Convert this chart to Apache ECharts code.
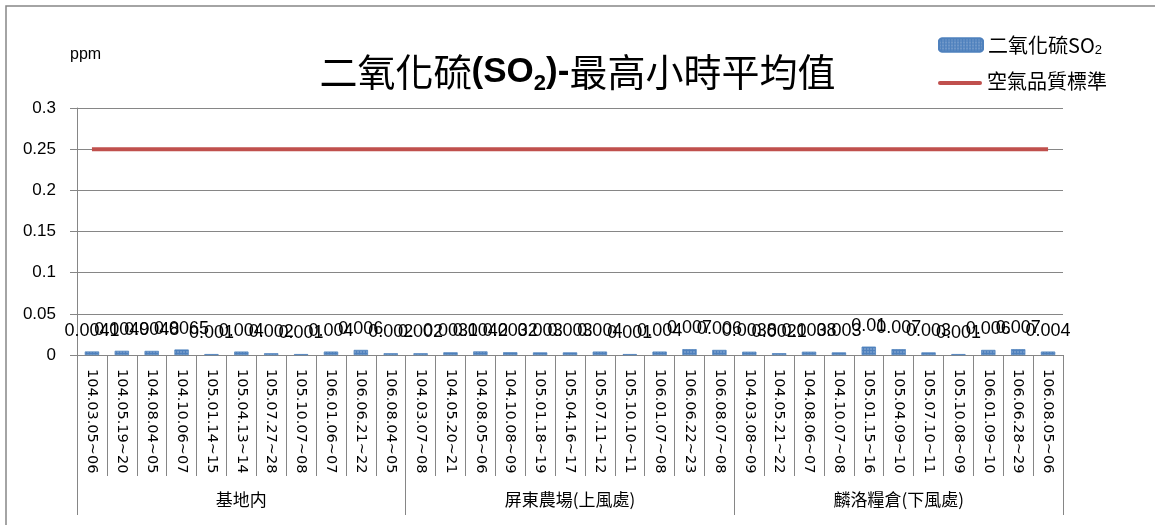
<!DOCTYPE html>
<html>
<head>
<meta charset="utf-8">
<script src="https://cdn.jsdelivr.net/npm/echarts@6/dist/echarts.min.js"></script>
<style>
html,body{margin:0;padding:0;background:#fff;}
#chart{width:1155px;height:525px;}
</style>
</head>
<body>
<div id="chart"></div>
<script>
// ---- data ----
var categories = [
  '104.03.05~06','104.05.19~20','104.08.04~05','104.10.06~07','105.01.14~15','105.04.13~14','105.07.27~28','105.10.07~08','106.01.06~07','106.06.21~22','106.08.04~05',
  '104.03.07~08','104.05.20~21','104.08.05~06','104.10.08~09','105.01.18~19','105.04.16~17','105.07.11~12','105.10.10~11','106.01.07~08','106.06.22~23','106.08.07~08',
  '104.03.08~09','104.05.21~22','104.08.06~07','104.10.07~08','105.01.15~16','105.04.09~10','105.07.10~11','105.10.08~09','106.01.09~10','106.06.28~29','106.08.05~06'
];
var groups = ['基地内', '屏東農場(上風處)', '麟洛糧倉(下風處)'];
var so2Values = [
  0.0041, 0.0049, 0.0048, 0.0065, 0.001, 0.004, 0.002, 0.001, 0.004, 0.006, 0.002,
  0.002, 0.0031, 0.0042, 0.0032, 0.003, 0.003, 0.004, 0.001, 0.004, 0.007, 0.006,
  0.0038, 0.0021, 0.0038, 0.003, 0.01, 0.007, 0.003, 0.001, 0.006, 0.007, 0.004
];
var standardValues = [
  0.25, 0.25, 0.25, 0.25, 0.25, 0.25, 0.25, 0.25, 0.25, 0.25, 0.25,
  0.25, 0.25, 0.25, 0.25, 0.25, 0.25, 0.25, 0.25, 0.25, 0.25, 0.25,
  0.25, 0.25, 0.25, 0.25, 0.25, 0.25, 0.25, 0.25, 0.25, 0.25, 0.25
];
var seriesNames = ['二氧化硫SO₂', '空氣品質標準'];

// ---- chart ----
var GREY = '#868686';
var RED = '#C0504D';
var CJK = '"Noto Sans CJK TC", "Noto Sans", sans-serif';
var LAT = '"Liberation Sans", Arial, sans-serif';
var chart = echarts.init(document.getElementById('chart'), null, {renderer: 'canvas'});
var option = {
  backgroundColor: '#fff',
  animation: false,
  title: {
    text: '{n|二氧化硫}{b|(SO}{s|2}{b|)-}{n|最高小時平均值}',
    left: 'center',
    top: 42,
    textStyle: {
      fontWeight: 'normal',
      rich: {
        n: {fontFamily: CJK, fontSize: 38, fontWeight: 'normal', color: '#000', lineHeight: 50, verticalAlign: 'middle'},
        b: {fontFamily: LAT, fontSize: 35, fontWeight: 'bold', color: '#000', lineHeight: 50, verticalAlign: 'middle'},
        s: {fontFamily: LAT, fontSize: 22, fontWeight: 'bold', color: '#000', lineHeight: 50, verticalAlign: 'bottom', padding: [0, 0, 2, 0]}
      }
    }
  },
  legend: {
    orient: 'vertical',
    left: 933,
    top: 30,
    itemWidth: 44,
    itemHeight: 13,
    data: [{name: seriesNames[0]}],
    formatter: function (name) {
      return '{t|二氧化硫SO}{s|2}';
    },
    textStyle: {
      rich: {
        t: {fontFamily: CJK, fontSize: 20, color: '#000', lineHeight: 24, verticalAlign: 'middle'},
        s: {fontFamily: LAT, fontSize: 13, color: '#000', lineHeight: 24, verticalAlign: 'bottom'}
      }
    }
  },
  graphic: [
    {type: 'rect', shape: {x: 6, y: 6, width: 1200, height: 600}, style: {fill: 'none', stroke: GREY, lineWidth: 1.5}, silent: true},
    {type: 'text', left: 70, top: 47, style: {text: 'ppm', font: '16px ' + LAT, fill: '#000'}},
    {type: 'line', shape: {x1: 940, y1: 83, x2: 980, y2: 83}, style: {stroke: RED, lineWidth: 4, lineCap: 'round'}, silent: true},
    {type: 'text', left: 987, top: 71, style: {text: seriesNames[1], font: '20px ' + CJK, fill: '#000'}}
  ],
  grid: {left: 77, right: 92, top: 108, bottom: 170, containLabel: false},
  xAxis: [
    {
      type: 'category',
      data: categories,
      position: 'bottom',
      axisLine: {show: true, lineStyle: {color: GREY, width: 1}},
      axisTick: {show: true, interval: 0, length: 121, lineStyle: {color: GREY, width: 1}},
      axisLabel: {interval: 0, rotate: -90, margin: 14, fontFamily: '"DejaVu Sans", sans-serif', fontSize: 14.5, color: '#000'}
    },
    {
      type: 'category',
      data: groups,
      position: 'bottom',
      axisLine: {show: false},
      axisTick: {show: true, interval: 0, length: 160, lineStyle: {color: GREY, width: 1}},
      axisLabel: {interval: 0, margin: 136, fontFamily: CJK, fontSize: 17, color: '#000'}
    }
  ],
  yAxis: {
    type: 'value',
    min: 0,
    max: 0.3,
    interval: 0.05,
    axisLine: {show: true, lineStyle: {color: GREY, width: 1}},
    axisTick: {show: true, length: 7, lineStyle: {color: GREY}},
    splitLine: {show: true, lineStyle: {color: GREY, width: 1}},
    axisLabel: {fontFamily: LAT, fontSize: 17, color: '#000', margin: 21}
  },
  series: [
    {
      name: seriesNames[0],
      type: 'bar',
      xAxisIndex: 0,
      data: so2Values,
      barWidth: 14,
      itemStyle: {
        color: '#4F81BD',
        borderColor: '#4F81BD',
        borderWidth: 0.5,
        decal: {symbol: 'rect', symbolSize: 0.5, color: 'rgba(255,255,255,0.75)', dashArrayX: [2, 1], dashArrayY: [2, 1], rotation: 0}
      },
      label: {
        show: true,
        position: 'top',
        distance: 12,
        fontFamily: LAT,
        fontSize: 18,
        color: '#000',
        formatter: function (p) { return String(p.value); }
      }
    },
    {
      name: seriesNames[1],
      type: 'line',
      xAxisIndex: 0,
      data: standardValues,
      symbol: 'none',
      lineStyle: {color: RED, width: 4},
      itemStyle: {color: RED}
    }
  ]
};
chart.setOption(option);
</script>
</body>
</html>
